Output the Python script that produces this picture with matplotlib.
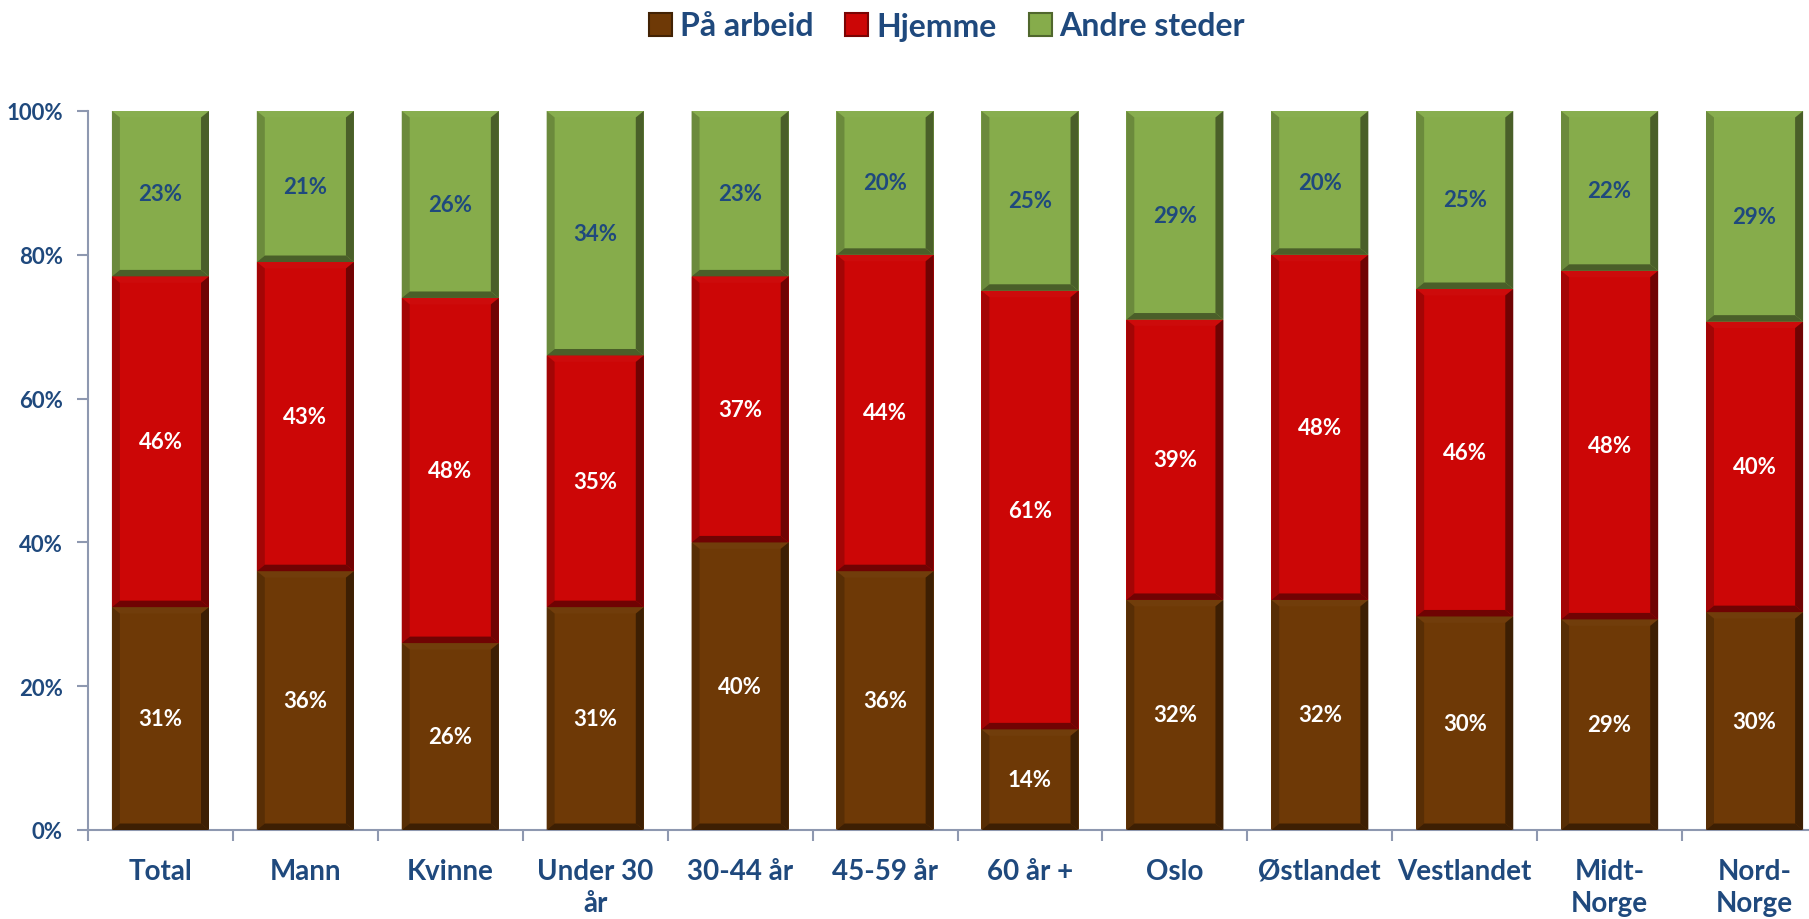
import numpy as np
import matplotlib
matplotlib.use("Agg")
import matplotlib.pyplot as plt
from matplotlib.patches import Polygon, Patch
from matplotlib.colors import to_rgb

# data (percent)
categories = ["Total", "Mann", "Kvinne", "Under 30\når", "30-44 år", "45-59 år",
              "60 år +", "Oslo", "Østlandet", "Vestlandet", "Midt-\nNorge", "Nord-\nNorge"]
series_names = ["På arbeid", "Hjemme", "Andre steder"]
paa_arbeid = [31, 36, 26, 31, 40, 36, 14, 32, 32, 30, 29, 30]
hjemme = [46, 43, 48, 35, 37, 44, 61, 39, 48, 46, 48, 40]
andre_steder = [23, 21, 26, 34, 23, 20, 25, 29, 20, 25, 22, 29]
y_ticks = [0, 20, 40, 60, 80, 100]

colors = ["#6E3906", "#CC0606", "#86AC4B"]
label_colors = ["white", "white", "#1F497D"]
blue = "#1F497D"
axis_col = "#8E98B0"

plt.rcParams['font.family'] = ['Lato', 'DejaVu Sans']

fig = plt.figure(figsize=(18.09, 9.2), dpi=100)
ax = fig.add_axes([88 / 1809, 89 / 920, 1739 / 1809, 719 / 920])

data = np.array([paa_arbeid, hjemme, andre_steder], dtype=float)
totals = data.sum(axis=0)
shares = data / totals * 100

x = np.arange(len(categories))
bar_w = 0.67
dx = 0.055  # bevel width in x (data units)
dy = 0.9    # bevel height in y (percent)


def shade(c, f):
    r, g, b = to_rgb(c)
    if f > 1:
        return tuple(min(1, v + (1 - v) * (f - 1)) for v in (r, g, b))
    return (r * f, g * f, b * f)


bottom = np.zeros(len(categories))
for i, name in enumerate(series_names):
    bars = ax.bar(x, shares[i], bar_w, bottom=bottom, color=colors[i], linewidth=0, zorder=2)
    for j, rect in enumerate(bars):
        x0, y0 = rect.get_x(), rect.get_y()
        x1, y1 = x0 + rect.get_width(), y0 + rect.get_height()
        top = [(x0, y1), (x1, y1), (x1 - dx, y1 - dy), (x0 + dx, y1 - dy)]
        left = [(x0, y0), (x0, y1), (x0 + dx, y1 - dy), (x0 + dx, y0 + dy)]
        right = [(x1, y0), (x1, y1), (x1 - dx, y1 - dy), (x1 - dx, y0 + dy)]
        bot = [(x0, y0), (x1, y0), (x1 - dx, y0 + dy), (x0 + dx, y0 + dy)]
        for pts, f in [(top, 1.02), (left, 0.8), (right, 0.55), (bot, 0.55)]:
            ax.add_patch(Polygon(pts, closed=True, facecolor=shade(colors[i], f),
                                 edgecolor='none', zorder=3))
        ax.text(x[j], y0 + rect.get_height() / 2, "%d%%" % data[i, j],
                ha='center', va='center', color=label_colors[i],
                fontsize=16, fontweight='bold', zorder=4)
    bottom += shares[i]

ax.set_xlim(-0.5, len(categories) - 0.5)
ax.set_ylim(0, 100)
ax.set_yticks(y_ticks)
ax.set_yticklabels(["%d%%" % t for t in y_ticks], color=blue, fontsize=16, fontweight='bold')
ax.set_xticks(x)
ax.set_xticklabels(categories, color=blue, fontsize=20, fontweight='bold', linespacing=1.3)
ax.set_xticks(np.arange(len(categories) + 1) - 0.5, minor=True)
ax.tick_params(axis='x', which='major', length=0, pad=20)
ax.tick_params(axis='x', which='minor', length=8, width=1.5, color=axis_col)
ax.tick_params(axis='y', length=8, width=1.5, color=axis_col, pad=10)

for s in ['top', 'right']:
    ax.spines[s].set_visible(False)
for s in ['left', 'bottom']:
    ax.spines[s].set_color(axis_col)
    ax.spines[s].set_linewidth(1.5)

handles = [Patch(facecolor=c, edgecolor=shade(c, 0.6), linewidth=1.5) for c in colors]
leg = fig.legend(handles, series_names, loc='center', bbox_to_anchor=(947 / 1809, 1 - 27 / 920),
                 ncol=3, frameon=False, fontsize=23, handlelength=0.72, handleheight=0.72,
                 handletextpad=0.25, columnspacing=1.0)
for t in leg.get_texts():
    t.set_color(blue)
    t.set_fontweight('bold')

fig.savefig("out.png", dpi=100)
